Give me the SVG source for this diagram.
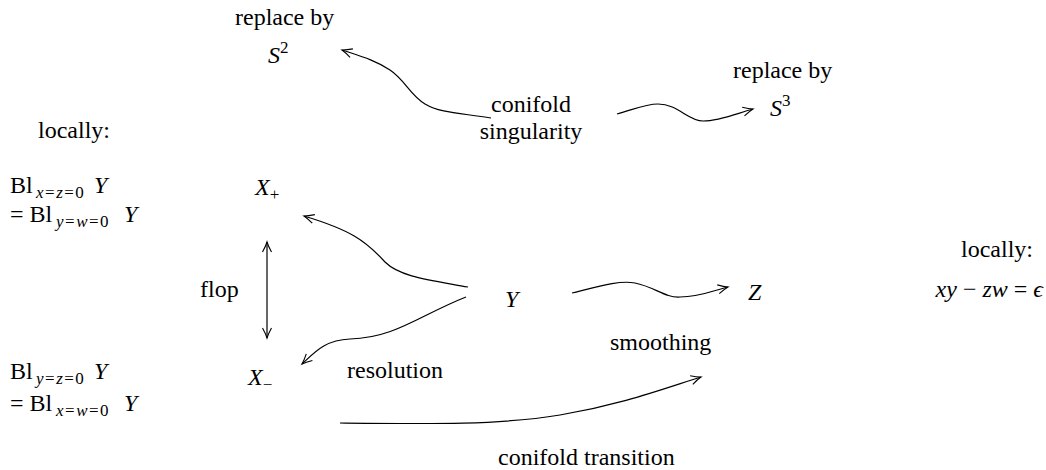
<svg xmlns="http://www.w3.org/2000/svg" width="1046" height="470" viewBox="0 0 1046 470">
<style>
text{font-family:"Liberation Serif","DejaVu Serif",serif;font-size:24px;fill:#000}
.i{font-style:italic}
.s{font-size:17px}
.sb{font-size:17px;letter-spacing:1.5px}
.c{stroke:#000;stroke-width:1.2;fill:none}
</style>
<defs>
<marker id="ah" markerWidth="14" markerHeight="12" refX="0" refY="0" viewBox="-11 -6 13 12" orient="auto" markerUnits="userSpaceOnUse">
<path d="M-10,-4.5 Q-4,-1.2 0,0 Q-4,1.2 -10,4.5" fill="none" stroke="#000" stroke-width="1.1"/>
</marker>
<marker id="as" markerWidth="14" markerHeight="12" refX="0" refY="0" viewBox="-11 -6 13 12" orient="auto-start-reverse" markerUnits="userSpaceOnUse">
<path d="M-10,-4.5 Q-4,-1.2 0,0 Q-4,1.2 -10,4.5" fill="none" stroke="#000" stroke-width="1.1"/>
</marker>
</defs>
<g id="replace-s2"><text x="235" y="25">replace by</text><text x="268" y="63"><tspan class="i">S</tspan><tspan class="s" dy="-10">2</tspan></text></g>
<g id="replace-s3"><text x="733" y="78">replace by</text><text x="770" y="116"><tspan class="i">S</tspan><tspan class="s" dy="-10">3</tspan></text></g>
<g id="conifold"><text x="531" y="112" text-anchor="middle">conifold</text><text x="531" y="139" text-anchor="middle">singularity</text></g>
<g id="locally-left"><text x="38" y="138">locally:</text></g>
<g id="bl-plus"><text x="10" y="193">Bl<tspan class="sb i" x="36" dy="5">x</tspan><tspan class="sb">=</tspan><tspan class="sb i">z</tspan><tspan class="sb">=0</tspan><tspan class="i" x="94" dy="-5">Y</tspan></text>
<text x="10" y="222">= Bl<tspan class="sb i" x="56" dy="5">y</tspan><tspan class="sb">=</tspan><tspan class="sb i">w</tspan><tspan class="sb">=0</tspan><tspan class="i" x="124" dy="-5">Y</tspan></text></g>
<g id="xplus"><text x="255" y="195"><tspan class="i">X</tspan><tspan class="s" dy="5">+</tspan></text></g>
<g id="flop"><text x="200" y="297">flop</text></g>
<g id="y"><text x="505" y="307" class="i">Y</text></g>
<g id="z"><text x="748" y="300" class="i">Z</text></g>
<g id="locally-right"><text x="1033" y="257" text-anchor="end">locally:</text><text x="1043" y="297" text-anchor="end"><tspan class="i">xy</tspan> − <tspan class="i">zw</tspan> = <tspan class="i">ϵ</tspan></text></g>
<g id="smoothing-label"><text x="610" y="350">smoothing</text></g>
<g id="bl-minus"><text x="10" y="379">Bl<tspan class="sb i" x="36" dy="5">y</tspan><tspan class="sb">=</tspan><tspan class="sb i">z</tspan><tspan class="sb">=0</tspan><tspan class="i" x="94" dy="-5">Y</tspan></text>
<text x="10" y="411">= Bl<tspan class="sb i" x="56" dy="5">x</tspan><tspan class="sb">=</tspan><tspan class="sb i">w</tspan><tspan class="sb">=0</tspan><tspan class="i" x="124" dy="-5">Y</tspan></text></g>
<g id="xminus"><text x="248" y="385"><tspan class="i">X</tspan><tspan class="s" dy="5">−</tspan></text></g>
<g id="resolution-label"><text x="347" y="378">resolution</text></g>
<g id="transition-label"><text x="498" y="465">conifold transition</text></g>
<g id="connectors">
<path class="c" d="M491,118 C460,113 440,113 425,104 C410,95 405,80 390,70 C375,60 360,56 342,50" marker-end="url(#ah)"/>
<path class="c" d="M617,114 C635,109 645,104 658,104 C678,104 688,121 703,121 C720,121 738,113 753,109" marker-end="url(#ah)"/>
<path class="c" d="M468,287 C430,280 400,277 385,262 C365,240 350,230 304,216" marker-end="url(#ah)"/>
<path class="c" d="M466,297 C420,315 395,338 350,339 C325,340 315,352 302,364" marker-end="url(#ah)"/>
<path class="c" d="M267,242 L267,338" marker-start="url(#as)" marker-end="url(#ah)"/>
<path class="c" d="M572,293 C600,286 620,280 635,283 C655,287 665,298 680,297 C700,297 715,290 728,287" marker-end="url(#ah)"/>
<path class="c" d="M340,423 C430,424 500,425 560,415 C620,405 660,390 701,377" marker-end="url(#ah)"/>
</g>
</svg>
